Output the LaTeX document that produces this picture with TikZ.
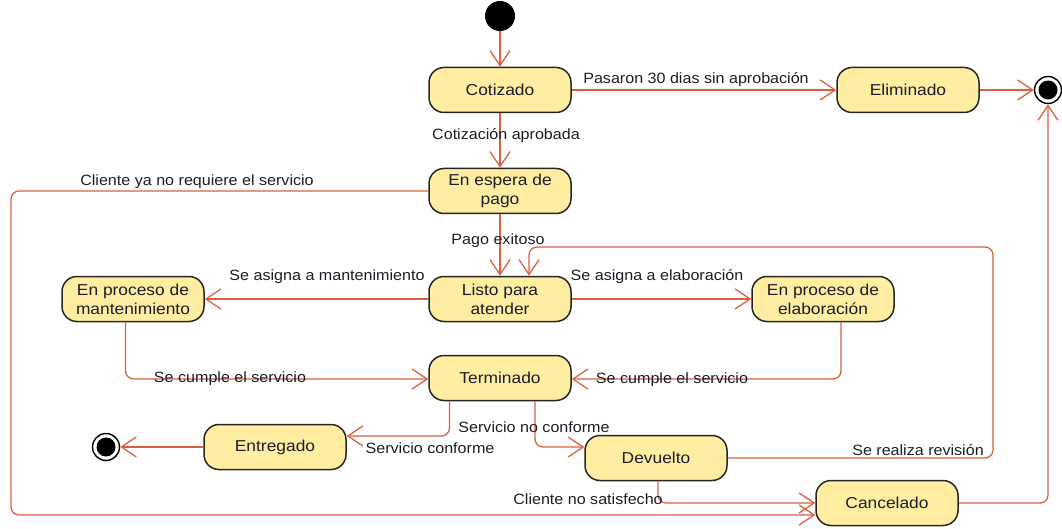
\documentclass[tikz,border=0pt]{standalone}
\usepackage{fontspec}
\setmainfont{Liberation Sans}
\newfontfamily\boxfont[FakeStretch=1.1]{Liberation Sans}
\newfontfamily\lblfont[FakeStretch=1.08]{Liberation Sans}
\usetikzlibrary{arrows.meta,calc}
\definecolor{conncol}{RGB}{218,96,64}
\definecolor{boxfill}{RGB}{255,238,162}
\definecolor{txtcol}{RGB}{28,28,40}
\tikzset{
  statebox/.style={rectangle, rounded corners=15pt, draw=black!85, line width=1.5pt,
    fill=boxfill, minimum width=142pt, minimum height=45pt, inner sep=0pt,
    align=center, text=txtcol, font=\boxfont\fontsize{15.8}{19}\selectfont},
  lbl/.style={text=txtcol, inner sep=0pt, font=\lblfont\fontsize{14.9}{17}\selectfont},
  conn/.style={draw=conncol, line width=1.3pt, rounded corners=8pt,
    -{Straight Barb[length=15pt,width=20pt,line width=1.3pt]}},
  initstate/.style={circle, fill=black, minimum size=30pt, inner sep=0pt},
  finalstate/.style={circle, draw=black, line width=1.4pt, fill=white, minimum size=27pt, inner sep=0pt,
    path picture={\fill[black] (path picture bounding box.center) circle (9.5pt);}}
}
\begin{document}
\begin{tikzpicture}[x=1pt,y=-1pt]
\useasboundingbox (0,0) rectangle (1062,529);
% states
\node[initstate] (init) at (500,16) {};
\node[statebox] (cot) at (500,90) {Cotizado};
\node[statebox] (elim) at (908,90) {Eliminado};
\node[finalstate] (fin1) at (1048,90) {};
\node[statebox] (espera) at (500,191) {En espera de\\pago};
\node[statebox] (listo) at (500,299) {Listo para\\atender};
\node[statebox] (mant) at (133,299) {En proceso de\\mantenimiento};
\node[statebox] (elab) at (823,299) {En proceso de\\elaboración};
\node[statebox] (term) at (500,378) {Terminado};
\node[statebox] (entreg) at (275,447) {Entregado};
\node[finalstate] (fin2) at (106,447) {};
\node[statebox] (dev) at (656,458) {Devuelto};
\node[statebox] (cancel) at (887,503) {Cancelado};
% helper coordinates
\coordinate (lc) at (11,515);
\coordinate (rv) at (993,247);
% connectors
\draw[conn] (init) -- (cot);
\draw[conn] (cot) -- (elim);
\draw[conn] (elim) -- (fin1);
\draw[conn] (cot) -- (espera);
\draw[conn] (espera.west) -| (lc) -- ([yshift=-12pt]cancel.west);
\draw[conn] (espera) -- (listo);
\draw[conn] (listo) -- (mant);
\draw[conn] (listo) -- (elab);
\draw[conn] ([xshift=-7.5pt]mant.south) |- ([yshift=-1pt]term.west);
\draw[conn] ([xshift=18pt]elab.south) |- ([yshift=-1pt]term.east);
\draw[conn] ([xshift=-50.5pt]term.south) |- ([yshift=11pt]entreg.east);
\draw[conn] ([xshift=35pt]term.south) |- ([yshift=11pt]dev.west);
\draw[conn] (dev.east) -| (rv) -| ([xshift=29pt]listo.north);
\draw[conn] ([xshift=2pt]dev.south) |- (cancel.west);
\draw[conn] (cancel.east) -| (fin1.south);
\draw[conn] (entreg.west) -- (fin2);
% labels
\node[lbl] (l1) at (696,80) {Pasaron 30 dias sin aprobación};
\node[lbl] (l2) at (506,136) {Cotización aprobada};
\node[lbl] (l3) at (197,182) {Cliente ya no requiere el servicio};
\node[lbl] (l4) at (498,241) {Pago exitoso};
\node[lbl] (l5) at (327,277) {Se asigna a mantenimiento};
\node[lbl] (l6) at (657,277) {Se asigna a elaboración};
\node[lbl] (l7) at (230,379) {Se cumple el servicio};
\node[lbl] (l8) at (672,380) {Se cumple el servicio};
\node[lbl] (l9) at (534,427) {Servicio no conforme};
\node[lbl] (l10) at (430,448) {Servicio conforme};
\node[lbl] (l11) at (918,450) {Se realiza revisión};
\node[lbl] (l12) at (588,499) {Cliente no satisfecho};
\end{tikzpicture}
\end{document}
